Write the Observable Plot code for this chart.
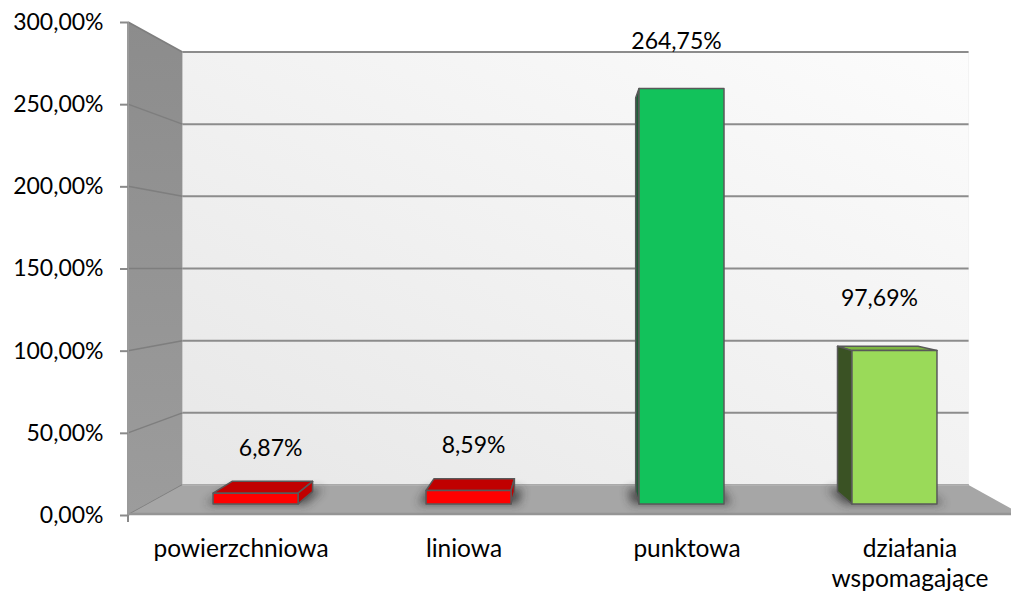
<!DOCTYPE html>
<html><head><meta charset="utf-8">
<script src="https://cdn.jsdelivr.net/npm/d3@7"></script>
<script src="https://cdn.jsdelivr.net/npm/@observablehq/plot@0.6"></script>
<style>body{margin:0;background:#fff}</style>
</head><body><div id="chart"></div>
<script>
const categories = ["powierzchniowa", "liniowa", "punktowa", "działania wspomagające"];
const values = [6.87, 8.59, 264.75, 97.69];
const yTicks = [0, 50, 100, 150, 200, 250, 300];
const frontColors = ["#FF0000", "#FF0000", "#12C25B", "#9ADA59"];
const topColors = ["#C00000", "#C00000", "#0E9A48", "#7DB640"];
const sideColors = ["#C00000", "#C00000", "#1D5E38", "#3A5224"];

const data = categories.map((c, i) => ({category: c, value: values[i], front: frontColors[i], top: topColors[i], side: sideColors[i]}));
const fmtPct = v => d3.format(".2f")(v).replace(".", ",") + "%";

const FONT = "Lato, 'Open Sans', sans-serif";

function scene(index, scales, vals, dims) {
  const x = scales.x, y = scales.y;
  const xd = scales.scales && scales.scales.x;
  const bw = (xd && xd.bandwidth) || (x.bandwidth ? x.bandwidth() : 89);
  const xr = (xd && xd.range) || (x.range ? x.range() : [dims.marginLeft, dims.width - dims.marginRight]);
  const x0 = xr[0], x1 = xr[1];
  const yB = y(0), yT = y(300);
  const VP = [(x0 + x1) / 2, (yB + yT) / 2];
  const proj = (px, py, t) => [px + t * (VP[0] - px), py + t * (VP[1] - py)];
  const tb = 0.1216, t1 = 0.045, t2 = 0.095;
  const pts = a => a.map(p => p.join(",")).join(" ");

  const g = d3.create("svg:g");
  const defs = g.append("defs");
  const bg = defs.append("linearGradient").attr("id", "backGrad").attr("x1", 0).attr("y1", 1).attr("x2", 1).attr("y2", 0);
  bg.append("stop").attr("offset", "0%").attr("stop-color", "#E7E7E7");
  bg.append("stop").attr("offset", "100%").attr("stop-color", "#FCFCFC");
  const lg = defs.append("linearGradient").attr("id", "leftGrad").attr("x1", 0).attr("y1", 0).attr("x2", 0).attr("y2", 1);
  lg.append("stop").attr("offset", "0%").attr("stop-color", "#8C8C8C");
  lg.append("stop").attr("offset", "100%").attr("stop-color", "#9C9C9C");
  defs.append("filter").attr("id", "shadowBlur").attr("x", "-50%").attr("y", "-200%").attr("width", "200%").attr("height", "500%")
    .append("feGaussianBlur").attr("stdDeviation", 5);

  // back wall
  g.append("polygon").attr("points", pts([proj(x0, yT, tb), proj(x1, yT, tb), proj(x1, yB, tb), proj(x0, yB, tb)]))
    .attr("fill", "url(#backGrad)").attr("stroke", "#F2F2F2").attr("stroke-width", 1);
  // left wall
  g.append("polygon").attr("points", pts([[x0, yT], proj(x0, yT, tb), proj(x0, yB, tb), [x0, yB]]))
    .attr("fill", "url(#leftGrad)");
  // gridlines
  yTicks.forEach(v => {
    const a = proj(x0, y(v), tb), b = proj(x1, y(v), tb);
    g.append("line").attr("x1", a[0]).attr("y1", a[1]).attr("x2", b[0]).attr("y2", b[1])
      .attr("stroke", "#8C8C8C").attr("stroke-width", 2);
    g.append("line").attr("x1", x0).attr("y1", y(v)).attr("x2", a[0]).attr("y2", a[1])
      .attr("stroke", "#7E7E7E").attr("stroke-width", 1.5);
  });
  // floor
  g.append("polygon").attr("points", pts([[x0, yB], [x1, yB], proj(x1, yB, tb), proj(x0, yB, tb)]))
    .attr("fill", "#A6A6A6");
  g.append("line").attr("x1", proj(x0, yB, tb)[0]).attr("y1", proj(x0, yB, tb)[1]).attr("x2", proj(x1, yB, tb)[0]).attr("y2", proj(x1, yB, tb)[1])
    .attr("stroke", "#B4B4B4").attr("stroke-width", 1.5);
  g.append("line").attr("x1", x0).attr("y1", yB - 1).attr("x2", x1).attr("y2", yB - 1)
    .attr("stroke", "#959595").attr("stroke-width", 2.5);
  // left axis line
  g.append("line").attr("x1", x0).attr("y1", yT).attr("x2", x0).attr("y2", yB)
    .attr("stroke", "#9A9A9A").attr("stroke-width", 2);
  g.append("line").attr("x1", x0).attr("y1", yB).attr("x2", x0).attr("y2", yB + 7)
    .attr("stroke", "#8A8A8A").attr("stroke-width", 2);

  // bars
  data.forEach(d => {
    const L = x(d.category), R = L + bw, T = y(d.value), B = yB;
    const FLT = proj(L, T, t1), FRT = proj(R, T, t1), FLB = proj(L, B, t1), FRB = proj(R, B, t1);
    const BLT = proj(L, T, t2), BRT = proj(R, T, t2), BLB = proj(L, B, t2), BRB = proj(R, B, t2);
    // shadow
    const sL = proj(L - 8, B, t1), sR = proj(R + 8, B, t1), sRb = proj(R + 8, B, t2 + 0.01), sLb = proj(L - 8, B, t2 + 0.01);
    g.append("polygon").attr("points", pts([sL, sR, sRb, sLb])).attr("fill", "#2E2E2E").attr("opacity", 0.75)
      .attr("filter", "url(#shadowBlur)");
    const face = (p, fill) => g.append("polygon").attr("points", pts(p)).attr("fill", fill)
      .attr("stroke", "#595959").attr("stroke-width", 1.5).attr("stroke-linejoin", "round");
    if (T > VP[1]) face([FLT, FRT, BRT, BLT], d.top);
    if (L > VP[0]) face([FLT, BLT, BLB, FLB], d.side);
    if (R < VP[0]) face([FRT, BRT, BRB, FRB], d.side);
    face([FLT, FRT, FRB, FLB], d.front);
    // value label (kept inside the plot area, as the spreadsheet does)
    const lp = proj(L + bw / 2, T, 0.09);
    const ly = Math.max(T - 57, yT + 18);
    g.append("text").attr("x", lp[0]).attr("y", ly)
      .attr("text-anchor", "middle").attr("dominant-baseline", "central")
      .attr("font-family", FONT).attr("font-size", 23).attr("fill", "#000")
      .text(fmtPct(d.value));
  });
  return g.node();
}

const chart = Plot.plot({
  width: 1011,
  height: 594,
  marginLeft: 128,
  marginRight: 0,
  marginTop: 22,
  marginBottom: 79,
  style: {fontFamily: FONT, background: "white", color: "black"},
  x: {type: "band", domain: categories, range: [128, 1023], paddingInner: 0.6, paddingOuter: 0.3},
  y: {domain: [0, 300]},
  marks: [
    scene,
    Plot.axisY(yTicks, {tickFormat: fmtPct, tickSize: 8, tickPadding: 17, fontSize: 23, stroke: "#8A8A8A", strokeWidth: 2, fill: "black", label: null}),
    Plot.axisX({tickSize: 0, tickPadding: 20, fontSize: 24.5, lineHeight: 1.22, tickFormat: d => d.replace(" ", "\n"), fill: "black", label: null})
  ]
});
document.getElementById("chart").appendChild(chart);
</script>
</body></html>
